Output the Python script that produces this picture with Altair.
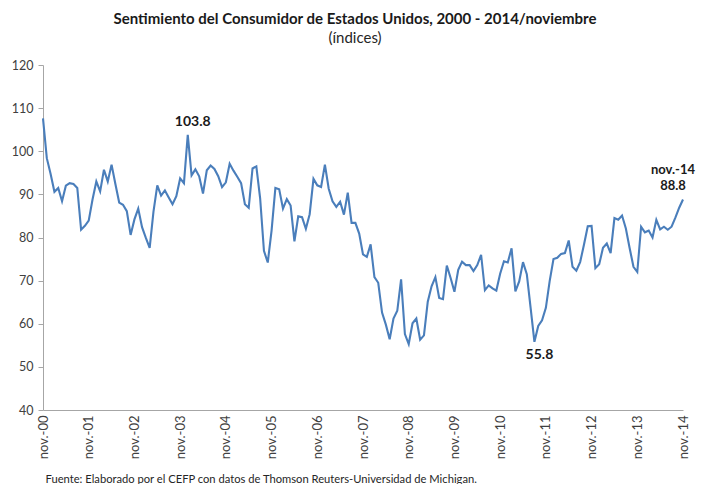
import json
import altair as alt
import pandas as pd

title_text = "Sentimiento del Consumidor de Estados Unidos, 2000 - 2014/noviembre"
subtitle_text = "(índices)"
source_text = "Fuente: Elaborado por el CEFP con datos de Thomson Reuters-Universidad de Michigan."

tick_labels = ["nov.-00", "nov.-01", "nov.-02", "nov.-03", "nov.-04", "nov.-05", "nov.-06",
               "nov.-07", "nov.-08", "nov.-09", "nov.-10", "nov.-11", "nov.-12", "nov.-13", "nov.-14"]
y_ticks = [40, 50, 60, 70, 80, 90, 100, 110, 120]

v2000 = [107.6, 98.4]
v2001 = [94.7, 90.6, 91.5, 88.4, 92.0, 92.6, 92.4, 91.5, 81.8, 82.7, 83.9, 88.8]
v2002 = [93.0, 90.7, 95.7, 93.0, 96.9, 92.4, 88.1, 87.6, 86.1, 80.6, 84.2, 86.7]
v2003 = [82.4, 79.9, 77.6, 86.0, 92.1, 89.7, 90.9, 89.3, 87.7, 89.6, 93.7, 92.6]
v2004 = [103.8, 94.4, 95.8, 94.2, 90.2, 95.6, 96.7, 95.9, 94.2, 91.7, 92.8, 97.1]
v2005 = [95.5, 94.1, 92.6, 87.7, 86.9, 96.0, 96.5, 89.1, 76.9, 74.2, 81.6, 91.5]
v2006 = [91.2, 86.7, 88.9, 87.4, 79.1, 84.9, 84.7, 82.0, 85.4, 93.6, 92.1, 91.7]
v2007 = [96.9, 91.3, 88.4, 87.1, 88.3, 85.3, 90.4, 83.4, 83.4, 80.9, 76.1, 75.5]
v2008 = [78.4, 70.8, 69.5, 62.6, 59.8, 56.4, 61.2, 63.0, 70.3, 57.6, 55.3, 60.1]
v2009 = [61.2, 56.3, 57.3, 65.1, 68.7, 70.8, 66.0, 65.7, 73.5, 70.6, 67.4, 72.5]
v2010 = [74.4, 73.6, 73.6, 72.2, 73.6, 76.0, 67.8, 68.9, 68.2, 67.7, 71.6, 74.5]
v2011 = [74.2, 77.5, 67.5, 69.8, 74.3, 71.5, 63.7, 55.8, 59.5, 60.8, 63.7, 69.9]
v2012 = [75.0, 75.3, 76.2, 76.4, 79.3, 73.2, 72.3, 74.3, 78.3, 82.6, 82.7, 72.9]
v2013 = [73.8, 77.6, 78.6, 76.4, 84.5, 84.1, 85.1, 82.1, 77.5, 73.2, 72.0, 82.5]
v2014 = [81.2, 81.6, 80.0, 84.1, 81.9, 82.5, 81.8, 82.5, 84.6, 86.9, 88.8]

values = (v2000 + v2001 + v2002 + v2003 + v2004 + v2005 + v2006 + v2007 +
          v2008 + v2009 + v2010 + v2011 + v2012 + v2013 + v2014)
n = len(values)
df = pd.DataFrame({"idx": list(range(n)), "value": values})

# annotated points (index into the series)
peak_idx = 38
low_idx = 129
last_idx = n - 1

FONT = "Lato"
LINE = "#4a7ebb"
AXIS = "#a6a6a6"

label_expr = json.dumps(tick_labels) + "[round(datum.value / 12)]"

x_enc = alt.X(
    "idx:Q",
    scale=alt.Scale(domain=[0, n - 1], nice=False, zero=False),
    axis=alt.Axis(
        values=list(range(0, n, 12)), labelExpr=label_expr, labelAngle=-90,
        labelFlush=False, labelOverlap=False, labelBound=False,
        ticks=False, grid=False, domainColor=AXIS, domainWidth=1,
        labelColor="#404040", labelFont=FONT, labelFontSize=13, labelPadding=5,
        title=source_text, titleAnchor="start", titleAlign="left", titleX=2, titleY=69,
        titleBaseline="middle", titleFont=FONT, titleFontSize=11.2, titleFontWeight="normal",
        titleColor="#262626",
    ),
)
y_enc = alt.Y(
    "value:Q",
    scale=alt.Scale(domain=[40, 120], nice=False, zero=False),
    axis=alt.Axis(
        values=y_ticks, grid=False, tickSize=5, tickColor=AXIS, domainColor=AXIS,
        labelColor="#404040", labelFont=FONT, labelFontSize=12.5, labelPadding=5, title=None,
    ),
)

base = alt.Chart(df)
line = base.mark_line(color=LINE, strokeWidth=2.1).encode(x=x_enc, y=y_enc)


def ann(idx, text, dx, dy, weight="bold", size=14):
    d = pd.DataFrame({"idx": [idx], "value": [values[idx]], "label": [text]})
    return alt.Chart(d).mark_text(
        dx=dx, dy=dy, font=FONT, fontSize=size, fontWeight=weight, color="#1a1a1a"
    ).encode(x="idx:Q", y="value:Q", text="label:N")


t_peak = ann(peak_idx, f"{values[peak_idx]:.1f}", 5, -13)
t_low = ann(low_idx, f"{values[low_idx]:.1f}", 5, 13)
t_last_name = ann(last_idx, tick_labels[-1], -10, -30, size=13)
t_last_val = ann(last_idx, f"{values[last_idx]:.1f}", -10, -14, size=13)

chart = alt.layer(line, t_peak, t_low, t_last_name, t_last_val).properties(
    width=640,
    height=345,
    padding={"left": 35, "top": 57, "right": 13, "bottom": 74},
    autosize=alt.AutoSizeParams(type="none"),
    title=alt.TitleParams(
        text=title_text, subtitle=subtitle_text, anchor="middle", dx=-8, offset=13,
        font=FONT, fontSize=15, fontWeight="bold", color="#1a1a1a",
        subtitleFont=FONT, subtitleFontSize=15, subtitleColor="#262626", subtitlePadding=4,
    ),
).configure_view(stroke=None)

chart.save("out.html", embed_options={"renderer": "svg", "actions": False})
